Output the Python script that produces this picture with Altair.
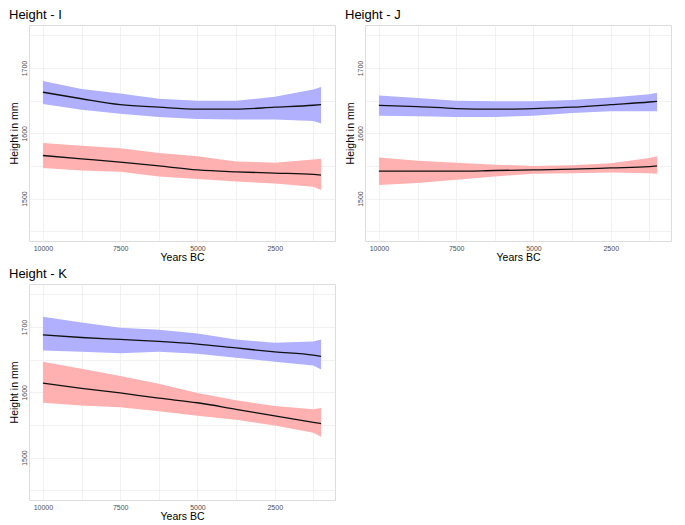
import altair as alt
import pandas as pd

years = [10000, 8750, 7500, 6250, 5000, 3750, 2500, 1250, 1000]

# Panel I
i_blue_mid = [1663, 1653, 1644, 1640, 1637, 1637, 1640, 1643, 1644]
i_blue_hi = [1680, 1668, 1661, 1653, 1650, 1650, 1656, 1667, 1671]
i_blue_lo = [1645, 1636, 1630, 1625, 1622, 1621, 1621, 1619, 1615]
i_red_mid = [1566, 1561, 1556, 1550, 1544, 1541, 1539, 1537, 1536]
i_red_hi = [1585, 1581, 1577, 1570, 1565, 1557, 1555, 1560, 1561]
i_red_lo = [1547, 1543, 1541, 1534, 1530, 1526, 1523, 1518, 1513]

# Panel J
j_blue_mid = [1643, 1641, 1638, 1637, 1638, 1640, 1644, 1648, 1649]
j_blue_hi = [1658, 1654, 1650, 1649, 1649, 1651, 1655, 1660, 1662]
j_blue_lo = [1627, 1626, 1625, 1625, 1627, 1631, 1634, 1634, 1634]
j_red_mid = [1542, 1542, 1542, 1543, 1544, 1545, 1547, 1549, 1550]
j_red_hi = [1563, 1558, 1555, 1552, 1550, 1551, 1554, 1562, 1565]
j_red_lo = [1521, 1524, 1529, 1534, 1538, 1539, 1540, 1539, 1538]

# Panel K
k_blue_mid = [1688, 1684, 1681, 1678, 1674, 1668, 1662, 1657, 1655]
k_blue_hi = [1716, 1707, 1699, 1696, 1690, 1681, 1676, 1678, 1681]
k_blue_lo = [1664, 1662, 1660, 1662, 1659, 1653, 1647, 1641, 1635]
k_red_mid = [1614, 1606, 1599, 1591, 1584, 1574, 1564, 1554, 1552]
k_red_hi = [1647, 1636, 1625, 1613, 1599, 1588, 1579, 1574, 1576]
k_red_lo = [1584, 1580, 1577, 1571, 1564, 1558, 1549, 1538, 1532]

x_ticks = [10000, 8750, 7500, 6250, 5000, 3750, 2500, 1250]
y_ticks = [1450, 1500, 1550, 1600, 1650, 1700, 1750]

FONT = "Liberation Sans"
W, H = 306, 216


def frame(blue_mid, blue_hi, blue_lo, red_mid, red_hi, red_lo):
    rows = []
    for grp, mid, hi, lo in (("blue", blue_mid, blue_hi, blue_lo),
                             ("red", red_mid, red_hi, red_lo)):
        for yr, m, h, l in zip(years, mid, hi, lo):
            rows.append({"year": yr, "mid": m, "hi": h, "lo": l, "grp": grp})
    return pd.DataFrame(rows)


def panel(df, title):
    xs = alt.Scale(domain=[550, 10450], reverse=True, nice=False, zero=False)
    ys = alt.Scale(domain=[1435, 1766], nice=False, zero=False)
    xax = alt.Axis(values=x_ticks, format="d", title="Years BC",
                   labelExpr="datum.value % 2500 == 0 ? datum.label : ''",
                   ticks=False, domain=False, labelFontSize=7, labelColor="#4d4d4d",
                   labelPadding=3, titleFontSize=10.5, titlePadding=1,
                   titleFontWeight="normal", titleColor="#000000",
                   labelFlush=False,
                   gridColor="#ebebeb", gridWidth=0.7, labelFont=FONT, titleFont=FONT)
    yax = alt.Axis(values=y_ticks, format="d", title="Height in mm",
                   labelExpr="datum.value % 100 == 0 ? datum.label : ''",
                   ticks=False, domain=False, labelFontSize=7, labelColor="#4d4d4d",
                   labelAngle=270, labelAlign="center", labelBaseline="bottom",
                   labelPadding=2, titleFontSize=10.5, titlePadding=1,
                   titleFontWeight="normal", titleColor="#000000",
                   gridColor="#ebebeb", gridWidth=0.7, labelFont=FONT, titleFont=FONT)
    color = alt.Color("grp:N", scale=alt.Scale(domain=["blue", "red"],
                                               range=["#b0b0ff", "#ffb0b0"]),
                      legend=None)
    base = alt.Chart(df)
    band = base.mark_area(opacity=1).encode(
        x=alt.X("year:Q", scale=xs, axis=xax),
        y=alt.Y("lo:Q", scale=ys, axis=yax),
        y2="hi:Q",
        color=color,
        detail="grp:N",
    )
    line = base.mark_line(color="#111111", strokeWidth=1.3, interpolate="monotone").encode(
        x=alt.X("year:Q", scale=xs, axis=xax),
        y=alt.Y("mid:Q", scale=ys, axis=yax),
        detail="grp:N",
    )
    return alt.layer(band, line).properties(
        width=W, height=H,
        title=alt.TitleParams(title, anchor="start", fontSize=13, font=FONT,
                              fontWeight="normal", color="#000000", offset=3),
    )


pI = panel(frame(i_blue_mid, i_blue_hi, i_blue_lo, i_red_mid, i_red_hi, i_red_lo), "Height - I")
pJ = panel(frame(j_blue_mid, j_blue_hi, j_blue_lo, j_red_mid, j_red_hi, j_red_lo), "Height - J")
pK = panel(frame(k_blue_mid, k_blue_hi, k_blue_lo, k_red_mid, k_red_hi, k_red_lo), "Height - K")

chart = alt.vconcat(
    alt.hconcat(pI, pJ, spacing=8),
    pK,
    spacing=4,
).properties(padding=0).configure_view(
    stroke="#b3b3b3", strokeWidth=1
).configure(background="white")

chart.save("out.html", embed_options={"renderer": "svg", "actions": False})
